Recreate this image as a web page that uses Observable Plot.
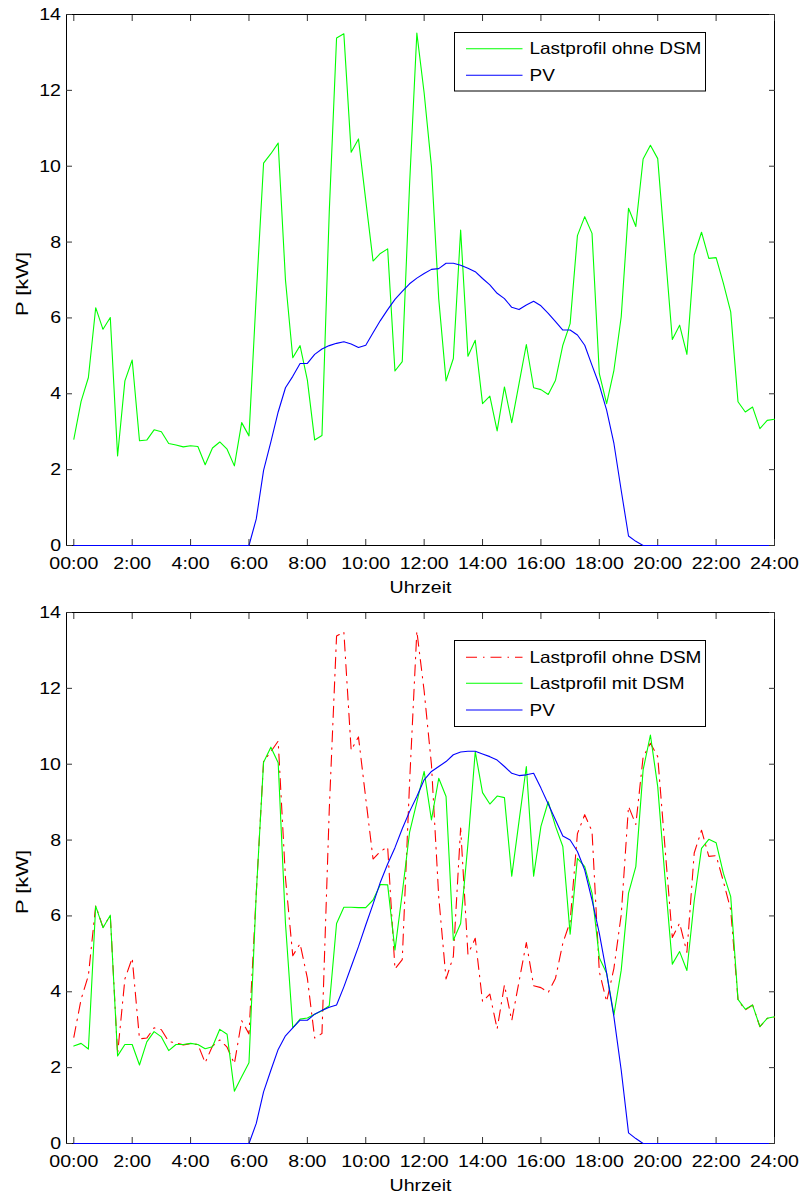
<!DOCTYPE html>
<html><head><meta charset="utf-8">
<script src="https://cdn.jsdelivr.net/npm/d3@7"></script>
<script src="https://cdn.jsdelivr.net/npm/@observablehq/plot@0.6"></script>
<style>
body{margin:0;background:#fff;}
#chart{width:800px;}
#chart svg{display:block;}
</style></head><body><div id="chart"></div>
<script>
// ---- data ----
const xTickHours = [0,2,4,6,8,10,12,14,16,18,20,22,24];
const xTickLabels = ["00:00","2:00","4:00","6:00","8:00","10:00","12:00","14:00","16:00","18:00","20:00","22:00","24:00"];
const yTicks = [0,2,4,6,8,10,12,14];
const xLabel = "Uhrzeit";
const yLabel = "P [kW]";

// 15-minute values, 00:00 ... 24:00
const lastOhneDSM = [
  2.80,3.80,4.43,6.27, 5.70,6.01,2.36,4.34, 4.89,2.76,2.78,3.05, 3.00,2.69,2.65,2.60,
  2.63,2.61,2.13,2.57, 2.73,2.54,2.10,3.24, 2.89,6.60,10.08,10.33, 10.61,7.00,4.95,5.27,
  4.36,2.78,2.90,8.80, 13.38,13.49,10.37,10.72, 9.10,7.50,7.70,7.82, 4.60,4.85,9.50,13.51,
  11.93,9.99,6.50,4.34, 4.93,8.32,4.99,5.41, 3.74,3.94,3.02,4.18, 3.24,4.27,5.30,4.16,
  4.11,3.98,4.36,5.28, 5.85,8.17,8.67,8.23, 4.53,3.74,4.62,6.03, 8.89,8.41,10.19,10.55,
  10.20,7.80,5.43,5.81, 5.04,7.66,8.26,7.57, 7.59,6.91,6.16,3.79, 3.52,3.65,3.08,3.30,
  3.33
];
const lastMitDSM = [
  2.57,2.64,2.49,6.26, 5.69,6.02,2.31,2.61, 2.61,2.07,2.68,2.95, 2.81,2.45,2.61,2.61,
  2.64,2.61,2.50,2.55, 3.01,2.88,1.38,1.76, 2.13,6.60,10.05,10.45, 10.04,5.80,3.05,3.28,
  3.31,3.41,3.50,3.63, 5.80,6.23,6.23,6.22, 6.22,6.42,6.83,6.82, 5.10,6.60,8.20,9.00,
  9.81,8.53,9.63,9.15, 5.36,5.80,7.90,10.33, 9.25,8.95,9.16,9.12, 7.05,8.50,9.94,7.05,
  8.36,9.01,8.36,7.83, 5.52,7.52,7.30,6.60, 4.90,4.49,3.39,4.57, 6.60,7.30,9.85,10.77,
  9.41,7.00,4.73,5.06, 4.56,6.40,7.78,8.02, 7.93,7.12,6.51,3.80, 3.54,3.65,3.08,3.30,
  3.34
];
const pvOben = [
  0,0,0,0, 0,0,0,0, 0,0,0,0, 0,0,0,0, 0,0,0,0, 0,0,0,0,
  0,0.70,1.98,2.73, 3.52,4.16,4.46,4.80, 4.80,5.04,5.18,5.27, 5.33,5.37,5.31,5.22,
  5.28,5.61,5.93,6.22, 6.49,6.70,6.90,7.05, 7.17,7.28,7.30,7.44, 7.44,7.39,7.31,7.22,
  7.04,6.87,6.65,6.51, 6.28,6.22,6.34,6.44, 6.32,6.12,5.90,5.68, 5.68,5.55,5.28,4.75,
  4.23,3.57,2.69,1.45, 0.25,0.11,0,0,
  0,0,0,0, 0,0,0,0, 0,0,0,0, 0,0,0,0, 0
];
const pvUnten = [
  0,0,0,0, 0,0,0,0, 0,0,0,0, 0,0,0,0, 0,0,0,0, 0,0,0,0,
  0,0.53,1.36,1.93, 2.48,2.84,3.05,3.25, 3.25,3.41,3.51,3.59, 3.65,4.13,4.66,5.19,
  5.76,6.31,6.89,7.37, 7.80,8.30,8.75,9.15, 9.59,9.81,9.94,10.07, 10.25,10.32,10.34,10.34,
  10.27,10.20,10.11,9.94, 9.76,9.70,9.72,9.76, 9.37,8.95,8.53,8.11, 8.00,7.70,7.21,6.42,
  5.54,4.49,3.34,1.93, 0.28,0.13,0,0,
  0,0,0,0, 0,0,0,0, 0,0,0,0, 0,0,0,0, 0
];
const slots = d3.range(lastOhneDSM.length).map(i => i / 4); // hours

// ---- styles ----
const FONT = "'Liberation Sans', Arial, Helvetica, sans-serif";
const GREEN = "#00ff00", BLUE = "#0000ff", RED = "#ff0000";
const DASHDOT = "11,6,1.5,6";
const W = 800, H = 597;

const rows = vals => vals.map((p, i) => ({t: slots[i], p}));
const fmtHour = d => xTickLabels[xTickHours.indexOf(d)];

function panel({series, marginTop, marginBottom, legend}) {
  const marks = [Plot.frame({stroke: "#000", strokeWidth: 1})];
  for (const s of series) {
    marks.push(Plot.line(rows(s.values), {x: "t", y: "p", stroke: s.color, strokeWidth: 1.1, strokeDasharray: s.dash || null}));
  }
  marks.push(
    Plot.axisX(xTickHours, {anchor: "bottom", tickSize: 0, tickPadding: 11, tickFormat: fmtHour, label: null}),
    Plot.axisX(xTickHours, {anchor: "bottom", tickSize: -6, tickFormat: () => "", label: null, stroke: "#333"}),
    Plot.axisX(xTickHours, {anchor: "top", tickSize: -6, tickFormat: () => "", label: null, stroke: "#333"}),
    Plot.axisY(yTicks, {anchor: "left", tickSize: 0, tickPadding: 5.5, label: null}),
    Plot.axisY(yTicks, {anchor: "left", tickSize: -6, tickFormat: () => "", label: null, stroke: "#333"}),
    Plot.axisY(yTicks, {anchor: "right", tickSize: -6, tickFormat: () => "", label: null, stroke: "#333"}),
    Plot.text([xLabel], {text: d => d, frameAnchor: "bottom", dy: 47, lineAnchor: "bottom"}),
    Plot.text([yLabel], {text: d => d, frameAnchor: "left", textAnchor: "middle", rotate: -90, dx: -39, dy: 4, lineAnchor: "bottom"})
  );
  const svg = Plot.plot({
    width: W, height: H,
    marginLeft: 66, marginRight: 26, marginTop, marginBottom,
    x: {domain: [-0.25, 24]},
    y: {domain: [0, 14]},
    style: {fontFamily: FONT, fontSize: "17px", color: "#000", background: "#fff", overflow: "visible"},
    marks
  });
  // legend
  const g = d3.select(svg).append("g").attr("text-anchor", "start");
  g.append("rect").attr("x", legend.x).attr("y", legend.y).attr("width", legend.w).attr("height", legend.h)
    .attr("fill", "#fff").attr("stroke", "#000").attr("stroke-width", 1);
  series.forEach((s, i) => {
    const y = legend.rows[i];
    g.append("line").attr("x1", legend.x + 11.5).attr("x2", legend.x + 68).attr("y1", y).attr("y2", y)
      .attr("stroke", s.color).attr("stroke-width", 1.1).attr("stroke-dasharray", s.dash || null);
    g.append("text").attr("x", legend.x + 75).attr("y", y).attr("dy", "0.34em")
      .attr("text-anchor", "start")
      .attr("font-size", "16.5px").attr("font-family", FONT).attr("fill", "#000").text(s.label);
  });
  return svg;
}

const top1 = panel({
  series: [
    {label: "Lastprofil ohne DSM", values: lastOhneDSM, color: GREEN},
    {label: "PV", values: pvOben, color: BLUE}
  ],
  marginTop: 14, marginBottom: 52,
  legend: {x: 454.5, y: 32.5, w: 251, h: 58.5, rows: [48.7, 75.3]}
});
const bottom1 = panel({
  series: [
    {label: "Lastprofil ohne DSM", values: lastOhneDSM, color: RED, dash: DASHDOT},
    {label: "Lastprofil mit DSM", values: lastMitDSM, color: GREEN},
    {label: "PV", values: pvUnten, color: BLUE}
  ],
  marginTop: 15, marginBottom: 51,
  legend: {x: 454.5, y: 43.5, w: 251, h: 86, rows: [60.3, 86.3, 113]}
});
const root = document.getElementById("chart");
root.appendChild(top1);
root.appendChild(bottom1);

// the reference text is stretched: widen horizontal texts, lengthen the rotated label
document.querySelectorAll("#chart svg text").forEach(t => {
  const len = t.getComputedTextLength();
  if (!(len > 0)) return;
  const rotated = (t.getAttribute("transform") || "").includes("rotate");
  t.setAttribute("textLength", (rotated ? 64 : len * 1.15).toFixed(2));
  t.setAttribute("lengthAdjust", "spacingAndGlyphs");
});
</script>
</body></html>
